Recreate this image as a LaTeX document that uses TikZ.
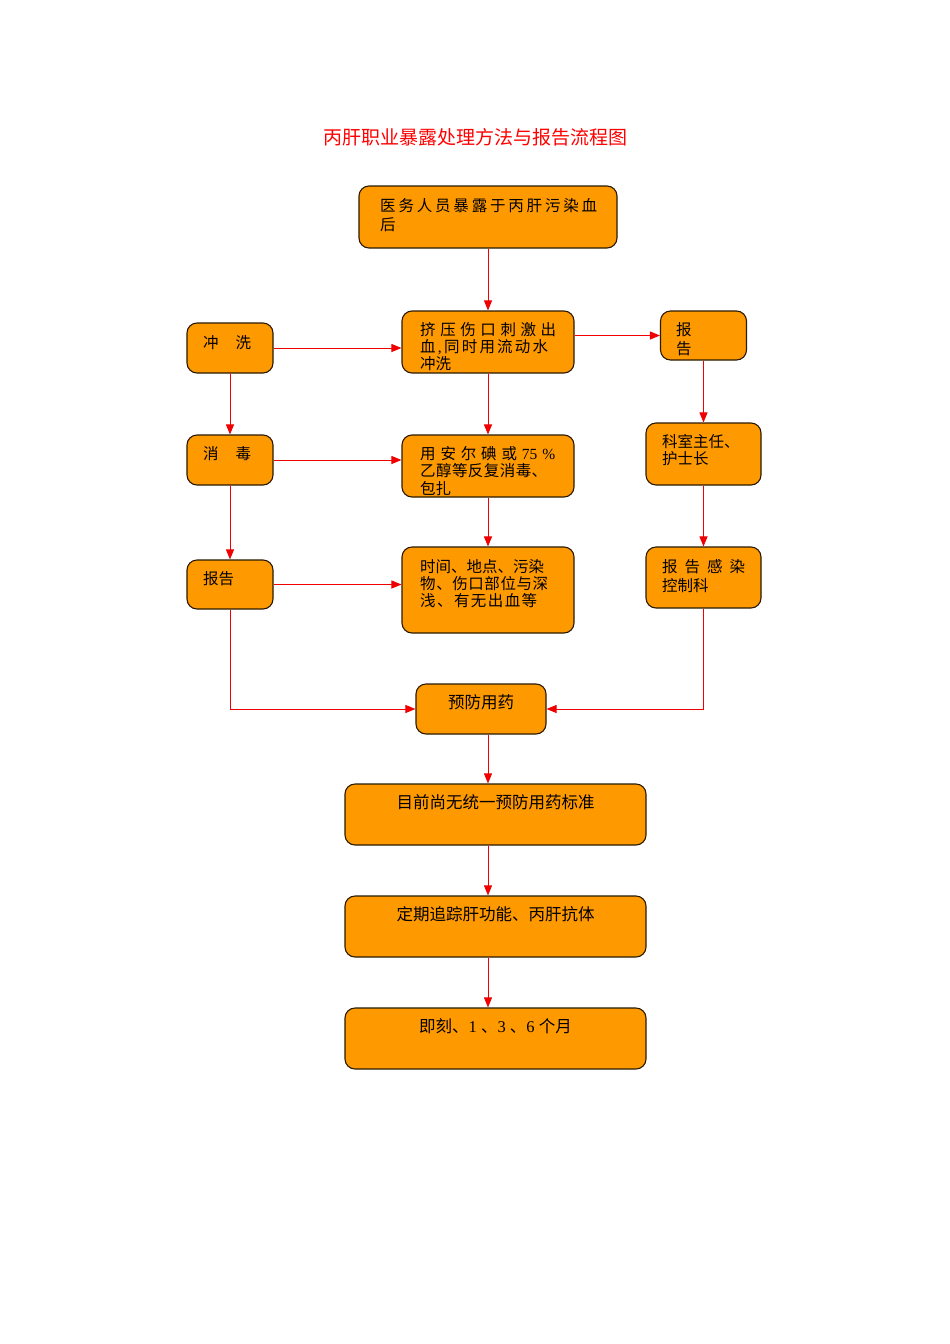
\documentclass[tikz,border=0pt]{standalone}
\usepackage{fontspec}
\setmainfont{Liberation Serif}
\newfontfamily\cjk{Noto Sans CJK SC}
\usetikzlibrary{arrows.meta}
\definecolor{boxorange}{HTML}{FF9900}
\definecolor{boxline}{HTML}{2A1A00}
\definecolor{arrowred}{HTML}{F00000}
\newcommand{\spr}[2]{\makebox[#1][s]{#2}}
\tikzset{
  bx/.style={draw=boxline, line width=1.1pt, fill=boxorange, rounded corners=10pt, inner sep=0pt, shape=rectangle},
  txt/.style={inner sep=0pt, anchor=base west, font=\cjk\fontsize{15.5}{17}\selectfont, text=black},
  ctxt/.style={inner sep=0pt, anchor=base, font=\cjk\fontsize{16.5}{19}\selectfont, text=black},
  arr/.style={draw=arrowred, line width=0.9pt, -{Triangle[length=10pt,width=8pt]}, color=arrowred}
}
\begin{document}
\begin{tikzpicture}[x=1pt,y=-1pt]
\useasboundingbox (0,0) rectangle (950,1344);
\node[inner sep=0pt, anchor=base, font=\cjk\fontsize{19}{21}\selectfont, text=red] (title) at (475,144) {丙肝职业暴露处理方法与报告流程图};

\node[bx, minimum width=258pt, minimum height=62pt] (b1) at (488,217) {};
\node[bx, minimum width=172pt, minimum height=62pt] (b2) at (488,342) {};
\node[bx, minimum width=86pt, minimum height=50pt] (c1) at (230,348) {};
\node[bx, minimum width=86pt, minimum height=49pt] (r1) at (703.5,335.5) {};
\node[bx, minimum width=86pt, minimum height=50pt] (c2) at (230,460) {};
\node[bx, minimum width=172pt, minimum height=62pt] (b5) at (488,466) {};
\node[bx, minimum width=115pt, minimum height=62pt] (r2) at (703.5,454) {};
\node[bx, minimum width=86pt, minimum height=49pt] (c3) at (230,584.5) {};
\node[bx, minimum width=172pt, minimum height=86pt] (b8) at (488,590) {};
\node[bx, minimum width=115pt, minimum height=61pt] (r3) at (703.5,577.5) {};
\node[bx, minimum width=130pt, minimum height=50pt] (p) at (481,709) {};
\node[bx, minimum width=301pt, minimum height=61pt] (m1) at (495.5,814.5) {};
\node[bx, minimum width=301pt, minimum height=61pt] (m2) at (495.5,926.5) {};
\node[bx, minimum width=301pt, minimum height=61pt] (m3) at (495.5,1038.5) {};

% texts
\node[txt] (t1) at (380,211) {\vtop{\baselineskip=19pt\hbox{\spr{217pt}{医\hfil 务\hfil 人\hfil 员\hfil 暴\hfil 露\hfil 于\hfil 丙\hfil 肝\hfil 污\hfil 染\hfil 血}}\hbox{后}}};
\node[txt] (t2) at (420,335) {\vtop{\baselineskip=17pt\hbox{\spr{136pt}{挤\hfil 压\hfil 伤\hfil 口\hfil 刺\hfil 激\hfil 出}}\hbox{\spr{128pt}{血\hfil{\rmfamily,}\hfil 同\hfil 时\hfil 用\hfil 流\hfil 动\hfil 水}}\hbox{冲洗}}};
\node[txt] (tc1) at (203,348) {\spr{48pt}{冲\hfil 洗}};
\node[txt] (tr1) at (676,335) {\vtop{\baselineskip=19pt\hbox{报}\hbox{告}}};
\node[txt] (tc2) at (203,459) {\spr{48pt}{消\hfil 毒}};
\node[txt] (t5) at (420,459) {\vtop{\baselineskip=17.5pt\hbox{\spr{135pt}{用\hfil 安\hfil 尔\hfil 碘\hfil 或\hfil{\rmfamily 75}\hfil{\rmfamily\%}}}\hbox{\spr{127pt}{乙\hfil 醇\hfil 等\hfil 反\hfil 复\hfil 消\hfil 毒\hfil 、}}\hbox{包扎}}};
\node[txt] (tr2) at (662,447) {\vtop{\baselineskip=17pt\hbox{科室主任、}\hbox{护士长}}};
\node[txt] (tc3) at (203,584) {报告};
\node[txt] (t8) at (420,572) {\vtop{\baselineskip=17pt\hbox{\spr{120pt}{时\hfil 间\hfil 、\hfil 地\hfil 点\hfil 、\hfil 污\hfil 染}}\hbox{\spr{128pt}{物\hfil 、\hfil 伤\hfil 口\hfil 部\hfil 位\hfil 与\hfil 深}}\hbox{\spr{117pt}{浅\hfil 、\hfil 有\hfil 无\hfil 出\hfil 血\hfil 等}}}};
\node[txt] (tr3) at (662,572) {\vtop{\baselineskip=19pt\hbox{\spr{83pt}{报\hfil 告\hfil 感\hfil 染}}\hbox{控制科}}};
\node[ctxt] (tp) at (481,708) {预防用药};
\node[ctxt] (tm1) at (495.5,808) {目前尚无统一预防用药标准};
\node[ctxt] (tm2) at (495.5,920) {定期追踪肝功能、丙肝抗体};
\node[ctxt] (tm3) at (495.5,1032) {即刻、{\rmfamily 1 }、{\rmfamily 3 }、{\rmfamily 6 }个月};

% connectors
\draw[arr] (b1.south) -- (b2.north);
\draw[arr] (c1.east) -- (c1.east -| b2.west);
\draw[arr] (r1.west -| b2.east) -- (r1.west);
\draw[arr] (c1.south) -- (c2.north);
\draw[arr] (b2.south) -- (b5.north);
\draw[arr] (r1.south) -- (r2.north);
\draw[arr] (c2.east) -- (c2.east -| b5.west);
\draw[arr] (c2.south) -- (c3.north);
\draw[arr] (b5.south) -- (b8.north);
\draw[arr] (r2.south) -- (r3.north);
\draw[arr] (c3.east) -- (c3.east -| b8.west);
\draw[arr] (c3.south) |- (p.west);
\draw[arr] (r3.south) |- (p.east);
\draw[arr] (p.south -| b1.south) -- (m1.north -| b1.south);
\draw[arr] (m1.south -| b1.south) -- (m2.north -| b1.south);
\draw[arr] (m2.south -| b1.south) -- (m3.north -| b1.south);
\end{tikzpicture}
\end{document}
